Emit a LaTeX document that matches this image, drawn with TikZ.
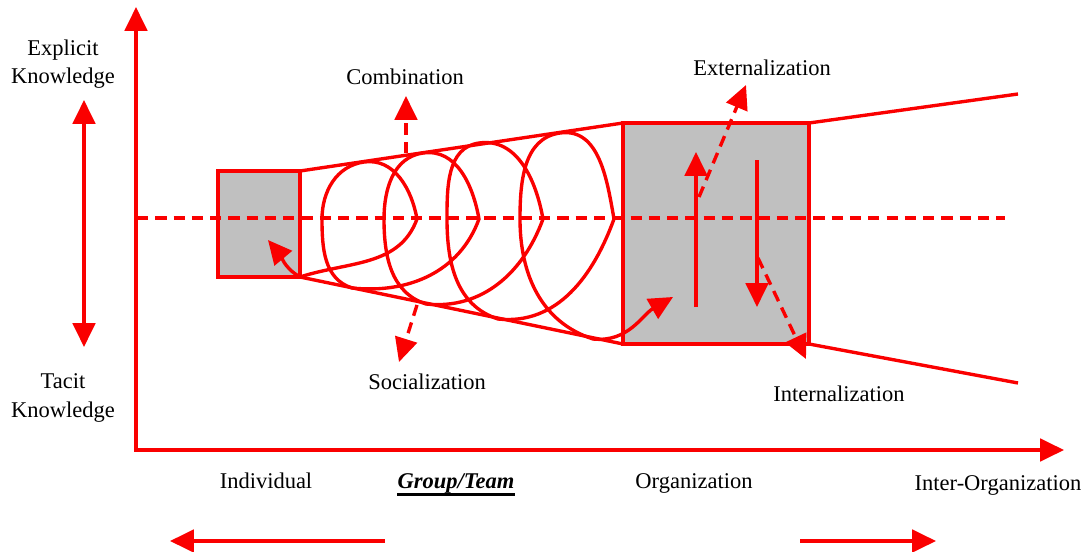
\documentclass[tikz,border=0pt]{standalone}
\usepackage{fontspec}
\setmainfont{Liberation Serif}
\usetikzlibrary{arrows.meta}
\definecolor{boxgray}{RGB}{192,192,192}
\definecolor{kred}{RGB}{250,0,0}
\begin{document}
\begin{tikzpicture}[x=0.025cm,y=0.025cm,
  redline/.style={draw=kred, line width=2.4pt},
  bigtip/.style={-{Triangle[length=17pt,width=16pt]}},
  dashline/.style={redline, dash pattern=on 8pt off 5pt},
  txt/.style={font=\fontsize{16}{20}\selectfont, inner sep=0pt, anchor=base},
  stage/.style={fill=boxgray, draw=kred, line width=2.2pt}]
\useasboundingbox (0,0) rectangle (1088,-552);

% axes
\coordinate (ytop) at (136,-7);
\coordinate (origin) at (136,-450);
\coordinate (xend) at (1064,-450);
\draw[redline, {Triangle[length=17pt,width=16pt]}-{Triangle[length=17pt,width=16pt]}]
  (ytop) -- (origin) -- (xend);

% explicit / tacit scale
\coordinate (ktop) at (84,-100);
\coordinate (kbot) at (84,-347);
\draw[redline, {Triangle[length=17pt,width=16pt]}-{Triangle[length=17pt,width=16pt]}] (ktop) -- (kbot);
\node[txt] (ex1) at (63,-55) {Explicit};
\node[txt] (ex2) at (63,-83) {Knowledge};
\node[txt] (ta1) at (63,-388) {Tacit};
\node[txt] (ta2) at (63,-417) {Knowledge};

% stages
\coordinate (ind-nw) at (218,-171);
\coordinate (ind-ne) at (300,-171);
\coordinate (ind-se) at (300,-277);
\coordinate (org-nw) at (623,-123);
\coordinate (org-sw) at (623,-344);
\coordinate (org-ne) at (809,-123);
\coordinate (org-se) at (809,-344);
\coordinate (far-top) at (1018,-94);
\coordinate (far-bot) at (1018,-383);
\draw[stage] (ind-nw) rectangle (ind-se);
\draw[stage] (org-nw) rectangle (org-se);
\draw[redline] (ind-ne) -- (org-nw);
\draw[redline] (ind-se) -- (org-sw);
\draw[redline] (org-ne) -- (far-top);
\draw[redline] (org-se) -- (far-bot);

% centre line
\coordinate (mid-l) at (137,-218);
\coordinate (mid-r) at (1005,-218);
\draw[dashline] (mid-l) -- (mid-r);

% knowledge spiral
\coordinate (s0) at (300,-277);
\coordinate (t1) at (417,-219); \coordinate (p1) at (364,-162);
\coordinate (l1) at (322,-219); \coordinate (b1) at (352,-288);
\coordinate (t2) at (479,-219); \coordinate (p2) at (423,-153);
\coordinate (l2) at (384,-219); \coordinate (b2) at (426,-304);
\coordinate (t3) at (543,-219); \coordinate (p3) at (479,-143);
\coordinate (l3) at (447,-219); \coordinate (b3) at (498,-319);
\coordinate (t4) at (614,-219); \coordinate (p4) at (560,-133);
\coordinate (l4) at (520,-219); \coordinate (b4) at (593,-339);
\coordinate (s-end) at (673,-297);
\coordinate (back) at (268,-240);
\draw[redline, bigtip] (s0)
  to[out=18,in=250] (t1) to[out=100,in=8] (p1) to[out=188,in=90] (l1) to[out=270,in=162] (b1)
  to[out=-6,in=250] (t2) to[out=100,in=8] (p2) to[out=188,in=90] (l2) to[out=270,in=162] (b2)
  to[out=-6,in=250] (t3) to[out=100,in=8] (p3) to[out=188,in=90] (l3) to[out=270,in=162] (b3)
  to[out=-6,in=250] (t4) to[out=100,in=8] (p4) to[out=188,in=90] (l4) to[out=270,in=162] (b4)
  to[out=-6,in=210] (s-end);
\draw[redline, bigtip] (s0) to[out=150,in=-50] (back);

% conversions inside the organisation
\coordinate (up-a) at (696,-307); \coordinate (up-b) at (696,-152);
\coordinate (dn-a) at (757,-160); \coordinate (dn-b) at (757,-307);
\draw[redline, bigtip] (up-a) -- (up-b);
\draw[redline, bigtip] (dn-a) -- (dn-b);

% SECI arrows
\coordinate (comb-a) at (406,-153); \coordinate (comb-b) at (406,-96);
\coordinate (soc-a) at (417,-305);  \coordinate (soc-b) at (399,-362);
\coordinate (ext-a) at (699,-197);  \coordinate (ext-b) at (746,-85);
\coordinate (int-a) at (758,-258);  \coordinate (int-b) at (806,-359);
\draw[dashline, bigtip] (comb-a) -- (comb-b);
\draw[dashline, bigtip] (soc-a) -- (soc-b);
\draw[dashline, bigtip] (ext-a) -- (ext-b);
\draw[dashline, bigtip] (int-a) -- (int-b);
\node[txt] (comb) at (405,-85) {Combination};
\node[txt] (ext) at (762,-75) {Externalization};
\node[txt] (soc) at (427,-389) {Socialization};
\node[txt] (int) at (839,-401) {Internalization};

% levels
\node[txt] (lv1) at (266,-488) {Individual};
\node[txt] (lv2) at (456,-488) {\textbf{\textit{Group/Team}}};
\draw[line width=1.8pt] ([yshift=-4.5pt]lv2.base west) -- ([yshift=-4.5pt]lv2.base east);
\node[txt] (lv3) at (694,-488) {Organization};
\node[txt] (lv4) at (998,-490) {Inter-Organization};

% direction arrows
\coordinate (la) at (385,-541); \coordinate (lb) at (170,-541);
\coordinate (ra) at (800,-541); \coordinate (rb) at (936,-541);
\draw[redline, bigtip] (la) -- (lb);
\draw[redline, bigtip] (ra) -- (rb);
\end{tikzpicture}
\end{document}
